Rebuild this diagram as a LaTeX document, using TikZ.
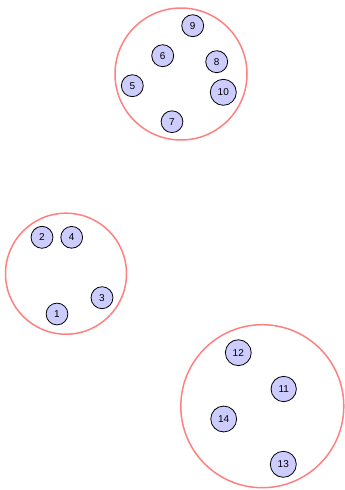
\documentclass[tikz,border=0pt]{standalone}
\usepackage{fontspec}
\setmainfont{Liberation Sans}
\definecolor{nodefill}{RGB}{204,204,255}
\definecolor{clusterred}{RGB}{255,128,128}
\begin{document}
\begin{tikzpicture}[x=1pt,y=-1pt,
  vnode/.style={circle,draw=black,fill=nodefill,line width=0.8pt,inner sep=4.6pt,font=\fontsize{10}{12}\selectfont},
  cluster/.style={circle,draw=clusterred,line width=1.5pt,inner sep=0pt}]
\useasboundingbox (0,0) rectangle (345,490);
% clusters
\node[cluster,minimum size=132pt] (c1) at (181,74) {};
\node[cluster,minimum size=121pt] (c2) at (66,273.7) {};
\node[cluster,minimum size=163pt] (c3) at (262.3,406.2) {};
% nodes
\node[vnode] (n9) at (192.7,25.7) {9};
\node[vnode] (n6) at (162.7,55.7) {6};
\node[vnode] (n8) at (216.7,61.7) {8};
\node[vnode] (n5) at (132.3,85.7) {5};
\node[vnode] (n10) at (223.3,92.3) {10};
\node[vnode] (n7) at (172,121.7) {7};
\node[vnode] (n2) at (42,237.3) {2};
\node[vnode] (n4) at (71.7,237.3) {4};
\node[vnode] (n3) at (102,297.7) {3};
\node[vnode] (n1) at (57,314) {1};
\node[vnode] (n12) at (238.3,352.7) {12};
\node[vnode] (n11) at (283.7,389) {11};
\node[vnode] (n14) at (223.7,419) {14};
\node[vnode] (n13) at (283.3,464.3) {13};
\end{tikzpicture}
\end{document}
